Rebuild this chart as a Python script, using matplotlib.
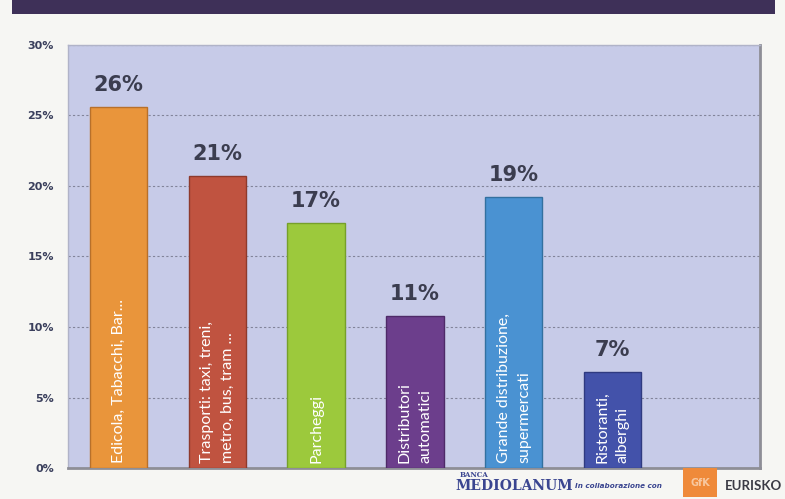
import matplotlib.pyplot as plt
from matplotlib.patches import Rectangle

# data
categories = ["Edicola, Tabacchi, Bar...",
              "Trasporti: taxi, treni,\nmetro, bus, tram ...",
              "Parcheggi",
              "Distributori\nautomatici",
              "Grande distribuzione,\nsupermercati",
              "Ristoranti,\nalberghi"]
values = [25.6, 20.7, 17.4, 10.8, 19.2, 6.8]
value_labels = ["26%", "21%", "17%", "11%", "19%", "7%"]
yticks = [0, 5, 10, 15, 20, 25, 30]
ytick_labels = ["0%", "5%", "10%", "15%", "20%", "25%", "30%"]

colors = ["#E9953B", "#C05340", "#9CC93C", "#6C3E8C", "#4A92D2", "#4352AA"]
edges = ["#B8702A", "#8E3A2C", "#76A02A", "#4E2A68", "#33709F", "#2F3A80"]

fig = plt.figure(figsize=(7.85, 4.99), dpi=100)
fig.patch.set_facecolor("#F6F6F3")

# dark title band (text is cut off in the scan)
fig.patches.append(Rectangle((0.015, 0.972), 0.972, 0.028, transform=fig.transFigure,
                             facecolor="#3E3058", edgecolor="none"))

ax = fig.add_axes([0.0866, 0.062, 0.8814, 0.848])
ax.set_facecolor("#C7CBE8")

x = range(len(categories))
ax.bar(x, values, width=0.58, color=colors, edgecolor=edges, linewidth=1, zorder=3)

for i, (v, lab, cat) in enumerate(zip(values, value_labels, categories)):
    ax.text(i, v + 0.85, lab, ha="center", va="bottom", fontsize=15,
            fontweight="heavy", color="#3B3D4F", zorder=4)
    ax.text(i, 0.35, cat, ha="center", va="bottom", rotation=90,
            multialignment="left", linespacing=1.6, fontsize=11.5,
            family="Lato", color="white", zorder=4)

ax.set_xlim(-0.51, 6.49)
ax.set_ylim(0, 30)
ax.set_yticks(yticks)
ax.set_yticklabels(ytick_labels, fontsize=8, fontweight="bold", color="#3A3F5C")
ax.set_xticks([])
ax.tick_params(axis="y", length=0, pad=10)
ax.yaxis.grid(True, linestyle=(0, (2, 2)), color="#82849A", linewidth=0.8, zorder=1)

for side in ["top", "left"]:
    ax.spines[side].set_color("#B0B3C8")
    ax.spines[side].set_linewidth(1)
for side in ["right", "bottom"]:
    ax.spines[side].set_color("#8E8E96")
    ax.spines[side].set_linewidth(2)

# sponsor logos at the bottom
fig.text(0.585, 0.045, "BANCA", fontsize=5, family="DejaVu Serif", color="#3A4590",
         fontweight="bold")
fig.text(0.58, 0.018, "MEDIOLANUM", fontsize=10, family="DejaVu Serif", color="#3A4590",
         fontweight="bold")
fig.text(0.733, 0.022, "In collaborazione con", fontsize=5.2, style="italic",
         fontweight="bold", color="#3A4590")
fig.patches.append(Rectangle((0.87, 0.005), 0.044, 0.058, transform=fig.transFigure,
                             facecolor="#EF8A3A", edgecolor="none"))
fig.text(0.892, 0.033, "GfK", fontsize=7, color="#F8C8A0", ha="center", va="center",
         fontweight="bold")
fig.text(0.923, 0.018, "EURISKO", fontsize=9.5, family="Lato", fontweight="bold",
         color="#3A3A44")

fig.savefig("out.png", dpi=100, facecolor=fig.get_facecolor())
